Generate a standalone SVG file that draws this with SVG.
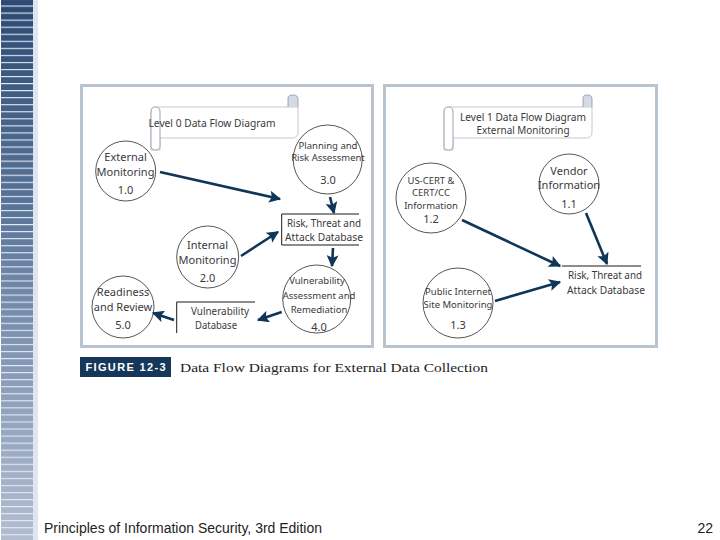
<svg xmlns="http://www.w3.org/2000/svg" width="720" height="540" viewBox="0 0 720 540">
<style>
.panel{fill:#fff;stroke:#b8c4d0;stroke-width:3}
.c{fill:#fff;stroke:#2a2a2a;stroke-width:.8}
.s{fill:#fff;stroke:#c2cad4;stroke-width:1}
.roll{fill:#fff;stroke:#9aa4b0;stroke-width:1}
.curl{fill:#d5dbe6;stroke:#8a94a3;stroke-width:.8}
.b{fill:none;stroke:#1a1a1a;stroke-width:1}
.a{fill:none;stroke:#0f3557;stroke-width:2.6;marker-end:url(#h)}
text{font-family:"Noto Sans","Liberation Sans",sans-serif;font-size:11px;fill:#3a3a3a;text-anchor:middle}
.sm{font-size:9.5px}
.foot{font-family:"Liberation Sans",Arial,sans-serif;font-size:14px;fill:#222}
</style>
<defs>
<linearGradient id="g" x1="0" y1="0" x2="0" y2="1">
<stop offset="0" stop-color="#2b4a72"/><stop offset=".4" stop-color="#5c769a"/><stop offset=".7" stop-color="#8a9cb8"/><stop offset="1" stop-color="#b2bdd0"/>
</linearGradient>
<pattern id="st" width="34" height="7.05" patternUnits="userSpaceOnUse" y="5.5">
<rect width="34" height="1.1" fill="#e4eaf4"/>
</pattern>
<marker id="h" viewBox="0 0 10 10" refX="9" refY="5" markerWidth="5.5" markerHeight="4.6" orient="auto"><path d="M0 0L10 5L0 10L2 5Z" fill="#0f3557"/></marker>
</defs>
<rect width="720" height="540" fill="#fff"/>
<g id="strip">
<rect x="33" width="5" height="540" fill="#dfe6f1"/>
<rect x="1" width="32" height="540" fill="url(#g)"/>
<rect x="1" width="32" height="540" fill="url(#st)"/>
</g>
<g id="panels">
<rect class="panel" x="81.500" y="85.500" width="291" height="261"/>
<rect class="panel" x="384.500" y="85.500" width="272" height="261"/>
</g>
<g id="scroll0">
<path class="s" d="M156 107H298V132Q298 138 292 138H160V150H151V112Q151 107 156 107Z"/>
<path class="roll" d="M151 112Q151 107 155.500 107Q160 107 160 112V146Q160 150 155.500 150Q151 150 151 146Z"/>
<path class="curl" d="M288 107V98Q288 95 293 95Q298 95 298 99V107"/>
<text x="212" y="127" textLength="127" lengthAdjust="spacingAndGlyphs">Level 0 Data Flow Diagram</text>
</g>
<g id="n1"><circle class="c" cx="125.700" cy="171" r="30"/><text x="125.500" y="161">External</text><text x="125.500" y="176">Monitoring</text><text x="125.500" y="194">1.0</text></g>
<g id="n3"><circle class="c" cx="327.700" cy="159.500" r="34.500"/><text class="sm" x="328" y="149">Planning and</text><text class="sm" x="328" y="161">Risk Assessment</text><text x="328" y="184">3.0</text></g>
<g id="ds0"><path class="b" d="M359 214H281.700V245H359"/><text x="324" y="227" textLength="74" lengthAdjust="spacingAndGlyphs">Risk, Threat and</text><text x="324" y="241" textLength="78" lengthAdjust="spacingAndGlyphs">Attack Database</text></g>
<g id="n2"><circle class="c" cx="207.700" cy="257" r="31"/><text x="207.500" y="249">Internal</text><text x="207.500" y="264">Monitoring</text><text x="207.500" y="282">2.0</text></g>
<g id="n4"><circle class="c" cx="316.700" cy="299" r="34"/><text class="sm" x="317" y="284">Vulnerability</text><text class="sm" x="319" y="299">Assessment and</text><text class="sm" x="319" y="313">Remediation</text><text x="319" y="331">4.0</text></g>
<g id="n5"><circle class="c" cx="123" cy="307" r="31"/><text x="123" y="296">Readiness</text><text x="123" y="311">and Review</text><text x="123" y="329">5.0</text></g>
<g id="ds1"><path class="b" d="M255 302H176.700V333"/><text x="220" y="315" textLength="58" lengthAdjust="spacingAndGlyphs">Vulnerability</text><text x="216" y="329" textLength="42" lengthAdjust="spacingAndGlyphs">Database</text></g>
<g id="scroll1">
<path class="s" d="M449 107H592V132Q592 138 586 138H453V150H444V112Q444 107 449 107Z"/>
<path class="roll" d="M444 112Q444 107 448.500 107Q453 107 453 112V146Q453 150 448.500 150Q444 150 444 146Z"/>
<path class="curl" d="M583 107V98Q583 95 587.500 95Q592 95 592 99V107"/>
<text x="523" y="121" textLength="126" lengthAdjust="spacingAndGlyphs">Level 1 Data Flow Diagram</text>
<text x="523" y="134" textLength="93" lengthAdjust="spacingAndGlyphs">External Monitoring</text>
</g>
<g id="n11"><circle class="c" cx="569" cy="184" r="30"/><text x="569" y="175">Vendor</text><text x="569" y="189">Information</text><text x="569" y="208">1.1</text></g>
<g id="n12"><circle class="c" cx="431" cy="198" r="35"/><text class="sm" x="431" y="184">US-CERT &amp;</text><text class="sm" x="431" y="196">CERT/CC</text><text class="sm" x="431" y="209">Information</text><text x="431" y="223">1.2</text></g>
<g id="n13"><circle class="c" cx="458" cy="303" r="35"/><text class="sm" x="458" y="295">Public Internet</text><text class="sm" x="458" y="308">Site Monitoring</text><text x="458" y="329">1.3</text></g>
<g id="ds2"><path class="b" d="M562 266H641"/><text x="605" y="279" textLength="74" lengthAdjust="spacingAndGlyphs">Risk, Threat and</text><text x="606" y="294" textLength="78" lengthAdjust="spacingAndGlyphs">Attack Database</text></g>
<g id="connectors">
<path class="a" d="M160 172L280 199"/>
<path class="a" d="M330 197L334 213"/>
<path class="a" d="M241 256L278 232"/>
<path class="a" d="M333 248L332 266"/>
<path class="a" d="M281.700 312L258 320"/>
<path class="a" d="M174 320L153 313"/>
<path class="a" d="M462 220L560 266"/>
<path class="a" d="M586 213L607 264"/>
<path class="a" d="M495 301L560 282"/>
</g>
<g id="caption">
<rect x="80" y="357" width="91" height="20" fill="#15375a"/>
<text x="125.500" y="371" fill="#fff" style="fill:#fff;font-family:'Liberation Sans',sans-serif;font-weight:bold;font-size:11px" textLength="80">FIGURE 12-3</text>
<text x="334" y="372" style="font-family:'Liberation Serif',serif;font-size:13.500px;fill:#222" textLength="308" lengthAdjust="spacingAndGlyphs">Data Flow Diagrams for External Data Collection</text>
</g>
<g id="footer">
<text class="foot" x="44" y="533" style="text-anchor:start" textLength="278" lengthAdjust="spacingAndGlyphs">Principles of Information Security, 3rd Edition</text>
<text class="foot" x="713" y="533" style="text-anchor:end">22</text>
</g>
</svg>
